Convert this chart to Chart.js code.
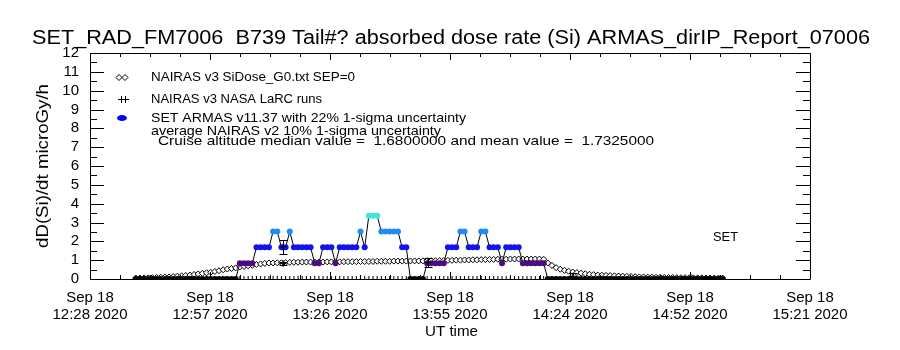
<!DOCTYPE html>
<html>
<head>
<meta charset="utf-8">
<script src="https://cdn.jsdelivr.net/npm/chart.js@4.4.1/dist/chart.umd.min.js"></script>
<style>
	html, body { margin: 0; padding: 0; background: #fff; }
</style>
</head>
<body>
<canvas id="myChart" width="900" height="350"></canvas>
<script>
// x axis: UT minutes of the day (12:28 = 748, 15:21 = 921)
const xStart = 748
const xEnd = 921
const xTickLabels = [
	['Sep 18', '12:28 2020'],
	['Sep 18', '12:57 2020'],
	['Sep 18', '13:26 2020'],
	['Sep 18', '13:55 2020'],
	['Sep 18', '14:24 2020'],
	['Sep 18', '14:52 2020'],
	['Sep 18', '15:21 2020'],
]

// sample times (UT minute of day), shared by ARMAS and NAIRAS SiDose
const sampleTime = [
	759, 760, 761, 762, 763, 764, 765, 766, 767, 768,
	769, 770, 771, 772, 773, 774, 775, 776, 777, 778,
	779, 780, 781, 782, 783, 784, 785, 786, 787, 788,
	789, 790, 791, 792, 793, 794, 795, 796, 797, 798,
	799, 800, 801, 802, 803, 804, 805, 806, 807, 808,
	809, 810, 811, 812, 813, 814, 815, 816, 817, 818,
	819, 820, 821, 822, 823, 824, 825, 826, 827, 828,
	829, 830, 831, 832, 833, 834, 835, 836, 837, 838,
	839, 840, 841, 842, 843, 844, 845, 846, 847, 848,
	849, 850, 851, 852, 853, 854, 855, 856, 857, 858,
	859, 860, 861, 862, 863, 864, 865, 866, 867, 868,
	869, 870, 871, 872, 873, 874, 875, 876, 877, 878,
	879, 880, 881, 882, 883, 884, 885, 886, 887, 888,
	889, 890, 891, 892, 893, 894, 895, 896, 897, 898,
	899, 900,
]

// SET ARMAS v11.37 dose rate, microGy/h
const armasDose = [
	0, 0, 0, 0, 0, 0, 0, 0, 0, 0,
	0, 0, 0, 0, 0, 0, 0, 0, 0, 0,
	0, 0, 0, 0, 0, 0.84, 0.84, 0.84, 0.84, 1.68,
	1.68, 1.68, 1.68, 2.52, 2.52, 1.68, 1.68, 2.52, 1.68, 1.68,
	1.68, 1.68, 1.68, 0.84, 0.84, 1.68, 1.68, 1.68, 0.84, 1.68,
	1.68, 1.68, 1.68, 1.68, 2.52, 1.68, 3.36, 3.36, 3.36, 2.52,
	2.52, 2.52, 2.52, 2.52, 1.68, 1.68, 0, 0, 0, 0,
	0.84, 0.84, 0.84, 0.84, 0.84, 1.68, 1.68, 1.68, 2.52, 2.52,
	1.68, 1.68, 1.68, 2.52, 2.52, 1.68, 1.68, 1.68, 0.84, 1.68,
	1.68, 1.68, 1.68, 0.84, 0.84, 0.84, 0.84, 0.84, 0.84, 0,
	0, 0, 0, 0, 0, 0, 0, 0, 0, 0,
	0, 0, 0, 0, 0, 0, 0, 0, 0, 0,
	0, 0, 0, 0, 0, 0, 0, 0, 0, 0,
	0, 0, 0, 0, 0, 0, 0, 0, 0, 0,
	0, 0,
]

// NAIRAS v3 SiDose_G0 model
const nairasDose = [
	0.05, 0.05, 0.06, 0.06, 0.07, 0.08, 0.09, 0.10, 0.11, 0.13,
	0.15, 0.17, 0.19, 0.21, 0.24, 0.27, 0.30, 0.33, 0.36, 0.40,
	0.44, 0.49, 0.53, 0.56, 0.59, 0.64, 0.67, 0.70, 0.73, 0.77,
	0.80, 0.83, 0.85, 0.85, 0.86, 0.86, 0.87, 0.88, 0.89, 0.89,
	0.90, 0.90, 0.90, 0.90, 0.90, 0.90, 0.91, 0.91, 0.91, 0.91,
	0.92, 0.92, 0.92, 0.92, 0.93, 0.93, 0.93, 0.93, 0.94, 0.94,
	0.94, 0.94, 0.95, 0.95, 0.95, 0.95, 0.96, 0.96, 0.96, 0.96,
	0.97, 0.97, 0.97, 0.98, 0.98, 0.99, 0.99, 1.00, 1.00, 1.01,
	1.01, 1.02, 1.02, 1.03, 1.03, 1.04, 1.04, 1.05, 1.05, 1.05,
	1.06, 1.06, 1.06, 1.06, 1.06, 1.06, 1.06, 1.06, 1.05, 0.85,
	0.72, 0.60, 0.52, 0.46, 0.41, 0.37, 0.34, 0.31, 0.28, 0.25,
	0.23, 0.21, 0.20, 0.19, 0.18, 0.17, 0.16, 0.15, 0.14, 0.13,
	0.12, 0.11, 0.11, 0.10, 0.10, 0.09, 0.09, 0.08, 0.08, 0.08,
	0.07, 0.07, 0.07, 0.06, 0.06, 0.06, 0.06, 0.05, 0.05, 0.05,
	0.05, 0.05,
]

// NAIRAS v3 NASA LaRC runs with 1-sigma
const larcTime = [794.4, 794.4, 829.2, 864.0, 892.4]
const larcDose = [1.70, 0.82, 0.88, 0.15, 0.08]
const larcErr = [0.36, 0.07, 0.26, 0.15, 0.05]

const legendLines = [
	'NAIRAS v3 SiDose_G0.txt SEP=0',
	'NAIRAS v3 NASA LaRC runs',
	'SET ARMAS v11.37 with 22% 1-sigma uncertainty',
	'average NAIRAS v2 10% 1-sigma uncertainty',
	'Cruise altitude median value =  1.6800000 and mean value =  1.7325000',
]

const FONT = '"Liberation Sans", Arial, sans-serif'
Chart.defaults.font.family = FONT
Chart.defaults.color = '#000'

const levelColor = (v) => {
	if (v > 3) return '#3ee6d6'
	if (v > 2) return '#1e8cf5'
	if (v > 1.2) return '#1212f0'
	if (v > 0.4) return '#4c0c80'
	return '#000000'
}

// draw a string squeezed to a given width (IDL text is narrow)
const fitText = (ctx, text, x, y, w, font) => {
	ctx.save()
	ctx.font = font
	const sx = w / ctx.measureText(text).width
	ctx.translate(x, y)
	ctx.scale(sx, 1)
	ctx.fillText(text, 0, 0)
	ctx.restore()
}

const framePlugin = {
	id: 'frame',
	afterDatasetsDraw(chart) {
		const { ctx, scales: { x, y } } = chart
		ctx.save()
		ctx.strokeStyle = '#000'
		ctx.lineWidth = 1
		larcTime.forEach((t, i) => {
			const px = Math.round(x.getPixelForValue(t)) + 0.5
			const top = Math.round(y.getPixelForValue(larcDose[i] + larcErr[i])) + 0.5
			const bot = Math.round(y.getPixelForValue(larcDose[i] - larcErr[i])) + 0.5
			ctx.beginPath()
			ctx.moveTo(px, top)
			ctx.lineTo(px, bot)
			ctx.moveTo(px - 4, top)
			ctx.lineTo(px + 4, top)
			ctx.moveTo(px - 4, bot)
			ctx.lineTo(px + 4, bot)
			ctx.stroke()
		})
		ctx.restore()
	},
	afterDraw(chart) {
		const { ctx, chartArea: a, scales: { x, y } } = chart
		ctx.save()
		ctx.strokeStyle = '#000'
		ctx.lineWidth = 1
		ctx.beginPath()
		ctx.rect(a.left + 0.5, a.top + 0.5, a.right - a.left, a.bottom - a.top)
		// y ticks, inward on both sides
		for (let v = 0; v <= 12; v += 0.5) {
			const py = Math.round(y.getPixelForValue(v)) + 0.5
			const len = v % 1 === 0 ? 14 : 7
			ctx.moveTo(a.left, py)
			ctx.lineTo(a.left + len, py)
			ctx.moveTo(a.right, py)
			ctx.lineTo(a.right - len, py)
		}
		// x ticks, 4 minor per major
		const step = (xEnd - xStart) / 24
		for (let k = 0; k <= 24; k++) {
			const px = Math.round(x.getPixelForValue(xStart + k * step)) + 0.5
			const len = k % 4 === 0 ? 7 : 4
			ctx.moveTo(px, a.bottom)
			ctx.lineTo(px, a.bottom - len)
			ctx.moveTo(px, a.top)
			ctx.lineTo(px, a.top + len)
		}
		ctx.stroke()

		// texts
		ctx.fillStyle = '#000'
		ctx.textBaseline = 'middle'
		ctx.textAlign = 'left'
		fitText(ctx, 'SET_RAD_FM7006  B739 Tail#? absorbed dose rate (Si) ARMAS_dirIP_Report_07006', 32, 38, 838, '20px ' + FONT)
		const lf = '13px ' + FONT
		fitText(ctx, legendLines[0], 151, 77, 204, lf)
		fitText(ctx, legendLines[1], 151, 99, 171, lf)
		fitText(ctx, legendLines[2], 151, 118, 315, lf)
		fitText(ctx, legendLines[3], 151, 131, 290, lf)
		fitText(ctx, legendLines[4], 158, 141, 496, lf)
		fitText(ctx, 'UT time', 425, 332, 53, '15px ' + FONT)
		fitText(ctx, 'SET', x.getPixelForValue(897.7), y.getPixelForValue(2.23), 25, '13px ' + FONT)
		ctx.save()
		ctx.translate(44, (a.top + a.bottom) / 2)
		ctx.rotate(-Math.PI / 2)
		fitText(ctx, 'dD(Si)/dt microGy/h', -82, 0, 164, '16px ' + FONT)
		ctx.restore()

		// legend symbols
		ctx.beginPath()
		;[119, 125].forEach((cx) => {
			ctx.moveTo(cx - 3, 77.5)
			ctx.lineTo(cx, 74.5)
			ctx.lineTo(cx + 3, 77.5)
			ctx.lineTo(cx, 80.5)
			ctx.closePath()
		})
		;[121, 125].forEach((cx) => {
			ctx.moveTo(cx + 0.5, 96)
			ctx.lineTo(cx + 0.5, 103)
			ctx.moveTo(cx - 3, 99.5)
			ctx.lineTo(cx + 4, 99.5)
		})
		ctx.stroke()
		ctx.fillStyle = '#0000ff'
		ctx.beginPath()
		ctx.ellipse(122, 118, 5, 3, 0, 0, Math.PI * 2)
		ctx.fill()
		ctx.restore()
	},
}

const ctx = document.getElementById('myChart').getContext('2d')
const myChart = new Chart(ctx, {
	type: 'line',
	data: {
		datasets: [
			{
				label: 'NAIRAS v3 NASA LaRC runs',
				data: larcTime.map((t, i) => ({ x: t, y: larcDose[i] })),
				showLine: false,
				pointStyle: 'cross',
				pointRadius: 3.5,
				pointBorderColor: '#000',
				pointBorderWidth: 1,
			},
			{
				label: 'SET ARMAS v11.37',
				data: sampleTime.map((t, i) => ({ x: t, y: armasDose[i] })),
				borderColor: '#000',
				borderWidth: 1,
				pointRadius: 3,
				pointBorderWidth: 0,
				pointBackgroundColor: (c) => levelColor(c.raw.y),
				clip: 0,
			},
			{
				label: 'ARMAS in-flight records',
				data: sampleTime
					.map((t, i) => ({ x: t, y: 0, on: armasDose[i] > 0 }))
					.filter((p) => p.on),
				showLine: false,
				pointStyle: 'line',
				rotation: 90,
				pointRadius: 3,
				pointBorderColor: '#000',
				pointBorderWidth: 1,
				clip: 0,
			},
			{
				label: 'NAIRAS v3 SiDose_G0.txt SEP=0',
				data: sampleTime.map((t, i) => ({ x: t, y: nairasDose[i] })),
				showLine: false,
				pointStyle: 'rectRot',
				pointRadius: 3,
				pointBackgroundColor: '#fff',
				pointBorderColor: '#000',
				pointBorderWidth: 1,
				clip: 0,
			},
		],
	},
	options: {
		responsive: false,
		animation: false,
		layout: { padding: { top: 53, right: 90, left: 0, bottom: 0 } },
		plugins: {
			legend: { display: false },
			tooltip: { enabled: false },
		},
		scales: {
			x: {
				type: 'linear',
				min: xStart,
				max: xEnd,
				grid: { display: false },
				border: { display: false },
				afterBuildTicks: (s) => {
					s.ticks = xTickLabels.map((_, i) => ({
						value: xStart + (i * (xEnd - xStart)) / (xTickLabels.length - 1),
					}))
				},
				afterFit: (s) => {
					s.height = 71
				},
				ticks: {
					autoSkip: false,
					maxRotation: 0,
					padding: 2,
					color: '#000',
					font: { size: 15, lineHeight: 1.13 },
					callback: (v, i) => xTickLabels[i],
				},
			},
			y: {
				min: 0,
				max: 12,
				grid: { display: false },
				border: { display: false },
				afterFit: (s) => {
					s.width = 90
				},
				ticks: {
					autoSkip: false,
					stepSize: 1,
					padding: 3,
					color: '#000',
					font: { size: 15 },
				},
			},
		},
	},
	plugins: [framePlugin],
})
</script>
</body>
</html>
